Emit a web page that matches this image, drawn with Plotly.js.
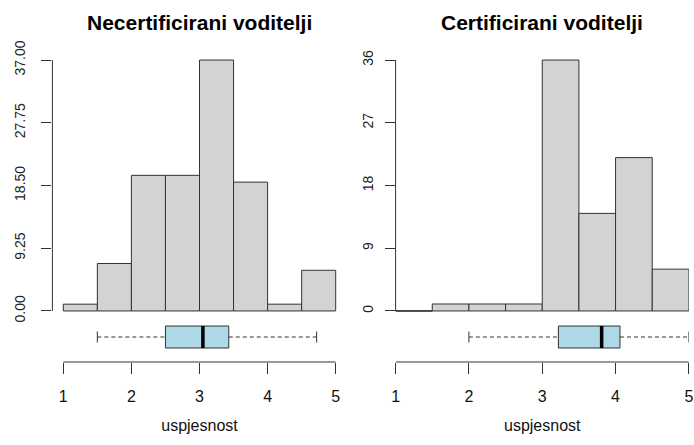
<!DOCTYPE html>
<html><head><meta charset="utf-8">
<script src="https://cdn.plot.ly/plotly-3.0.1.min.js"></script>
<style>html,body{margin:0;padding:0;background:#fff}#chart{width:694px;height:445px}</style>
</head><body><div id="chart"></div>
<script>
// ---- data ----
const binEdges = [1, 1.5, 2, 2.5, 3, 3.5, 4, 4.5, 5];
const countsNecert = [1, 7, 20, 20, 37, 19, 1, 6];
const countsCert = [0, 1, 1, 1, 36, 14, 22, 6];
// five-number summaries: [lower whisker, Q1, median, Q3, upper whisker]
const boxNecert = [1.5, 2.5, 3.05, 3.43, 4.72];
const boxCert = [2.0, 3.22, 3.81, 4.06, 5.0];
const xTicks = [1, 2, 3, 4, 5];
const yTicksNecert = [0, 9.25, 18.5, 27.75, 37];
const yTickTextNecert = ["0.00", "9.25", "18.50", "27.75", "37.00"];
const yTicksCert = [0, 9, 18, 27, 36];
const yTickTextCert = ["0", "9", "18", "27", "36"];
const titleNecert = "Necertificirani voditelji";
const titleCert = "Certificirani voditelji";
const xLabel = "uspjesnost";

// ---- layout helpers ----
const W = 694, H = 445;
const fx = p => p / W;
const fy = p => 1 - p / H;
const FONT = "Liberation Sans, Arial, Helvetica, sans-serif";
const LINE = "#333333";

function centers(edges) { const c = []; for (let i = 0; i < edges.length - 1; i++) c.push((edges[i] + edges[i + 1]) / 2); return c; }
function widths(edges) { const w = []; for (let i = 0; i < edges.length - 1; i++) w.push(edges[i + 1] - edges[i]); return w; }
function zeroBins(edges, counts) {
  const x = [], y = [];
  counts.forEach((c, i) => { if (c === 0) { x.push(edges[i], edges[i + 1], null); y.push(0, 0, null); } });
  return { x, y };
}

const panels = [
  { counts: countsNecert, box: boxNecert, yt: yTicksNecert, ytt: yTickTextNecert, title: titleNecert,
    dom: [52.4, 346.6], padX: true, yStand: 11, ax: ["x", "y", "x2", "y2"], ak: ["xaxis", "yaxis", "xaxis2", "yaxis2"] },
  { counts: countsCert, box: boxCert, yt: yTicksCert, ytt: yTickTextCert, title: titleCert,
    dom: [395.6, 688.9], padX: false, yStand: 6, ax: ["x3", "y3", "x4", "y4"], ak: ["xaxis3", "yaxis3", "xaxis4", "yaxis4"] }
];

const data = [], shapes = [], annotations = [];
const layout = {
  width: W, height: H, autosize: false,
  margin: { l: 0, r: 0, t: 0, b: 0, pad: 0 },
  paper_bgcolor: "#fff", plot_bgcolor: "rgba(0,0,0,0)",
  showlegend: false,
  font: { family: FONT, color: "#000" },
  bargap: 0
};

const histTop = 50, histBot = 321, boxTop = 323, boxBot = 351, axisY = 362;

panels.forEach(p => {
  const [hx, hy, bx, by] = p.ax;
  const [hxk, hyk, bxk, byk] = p.ak;
  const xMin = xTicks[0], xMax = xTicks[xTicks.length - 1];
  const padx = p.padX ? 0.04 * (xMax - xMin) : 0;
  const xr = [xMin - padx, xMax + padx];
  const yMax = p.yt[p.yt.length - 1];
  const yr = [-0.04 * yMax, yMax * 1.04];

  layout[hxk] = { domain: [fx(p.dom[0]), fx(p.dom[1])], range: xr, visible: false, anchor: hy, fixedrange: true };
  layout[hyk] = {
    domain: [fy(histBot), fy(histTop)], range: yr, anchor: hx,
    showline: false, showgrid: false, zeroline: false,
    tickmode: "array", tickvals: p.yt, ticktext: p.ytt,
    ticks: "outside", ticklen: 10, tickwidth: 1, tickcolor: LINE,
    tickangle: -90, tickfont: { family: FONT, size: 14, color: "#222" },
    ticklabelstandoff: p.yStand
  };
  layout[bxk] = {
    domain: [fx(p.dom[0]), fx(p.dom[1])], range: xr, anchor: "free", position: fy(axisY),
    showline: false, showgrid: false, zeroline: false,
    tickmode: "array", tickvals: xTicks, ticktext: xTicks.map(String),
    ticks: "outside", ticklen: 11, tickwidth: 1, tickcolor: LINE,
    tickfont: { family: FONT, size: 16, color: "#111" },
    ticklabeloverflow: "allow", ticklabelstandoff: 9,
    title: { text: xLabel, font: { family: FONT, size: 16, color: "#111" }, standoff: 15 }
  };
  layout[byk] = { domain: [fy(boxBot), fy(boxTop)], range: [-14 / 22, 14 / 22], visible: false, anchor: bx, fixedrange: true };

  // histogram bars
  data.push({
    type: "bar", x: centers(binEdges), y: p.counts, width: widths(binEdges),
    xaxis: hx, yaxis: hy,
    marker: { color: "#D3D3D3", line: { color: LINE, width: 1 } },
    hoverinfo: "x+y"
  });
  // zero-count bins drawn as a flat outline
  const z = zeroBins(binEdges, p.counts);
  if (z.x.length) data.push({ type: "scatter", mode: "lines", x: z.x, y: z.y, xaxis: hx, yaxis: hy, line: { color: LINE, width: 1 }, hoverinfo: "skip" });

  const [lw, q1, med, q3, uw] = p.box;
  // box
  data.push({
    type: "box", orientation: "h", y: [0], q1: [q1], median: [med], q3: [q3],
    lowerfence: [q1], upperfence: [q3], width: 1, whiskerwidth: 0, boxpoints: false,
    fillcolor: "#ADD8E6", line: { color: LINE, width: 1 },
    xaxis: bx, yaxis: by, hoverinfo: "skip"
  });
  // dashed whiskers
  data.push({ type: "scatter", mode: "lines", x: [lw, q1, null, q3, uw], y: [0, 0, null, 0, 0],
    xaxis: bx, yaxis: by, line: { color: LINE, width: 1, dash: "4px,3px" }, hoverinfo: "skip" });
  // staples
  data.push({ type: "scatter", mode: "lines", x: [lw, lw, null, uw, uw], y: [-0.25, 0.25, null, -0.25, 0.25],
    xaxis: bx, yaxis: by, line: { color: LINE, width: 1 }, hoverinfo: "skip" });
  // median
  data.push({ type: "scatter", mode: "lines", x: [med, med], y: [-0.5, 0.5],
    xaxis: bx, yaxis: by, line: { color: "#000", width: 3.5 }, hoverinfo: "skip" });

  // axis lines spanning first to last tick (as R draws them)
  shapes.push({ type: "line", xref: hx + " domain", x0: 0, x1: 0, yref: hy, y0: p.yt[0], y1: yMax, line: { color: LINE, width: 1 } });
  shapes.push({ type: "line", xref: bx, x0: xMin, x1: xMax, yref: "paper", y0: fy(axisY), y1: fy(axisY), line: { color: LINE, width: 1 } });

  annotations.push({
    text: p.title, xref: "paper", yref: "paper", x: fx((p.dom[0] + p.dom[1]) / 2), y: fy(23),
    xanchor: "center", yanchor: "middle", showarrow: false,
    font: { family: FONT, size: 21, weight: "bold", color: "#000" }
  });
});

layout.shapes = shapes;
layout.annotations = annotations;

Plotly.newPlot("chart", data, layout, { displayModeBar: false, staticPlot: true });
</script>
</body></html>
